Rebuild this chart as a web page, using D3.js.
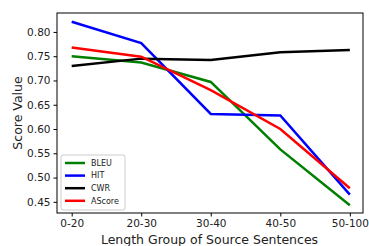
<!DOCTYPE html>
<html>
<head>
<meta charset="utf-8">
<script src="https://cdn.jsdelivr.net/npm/d3@7"></script>
<style>
  body { margin: 0; background: #fff; }
  text { font-family: "DejaVu Sans", sans-serif; }
</style>
</head>
<body>
<div id="chart"></div>
<script>
const groups = ["0-20", "20-30", "30-40", "40-50", "50-100"];
const bleu = [0.750, 0.737, 0.697, 0.558, 0.443];
const hit = [0.821, 0.777, 0.631, 0.628, 0.465];
const cwr = [0.730, 0.745, 0.742, 0.758, 0.763];
const ascore = [0.768, 0.749, 0.680, 0.600, 0.478];
const yTicks = [0.45, 0.50, 0.55, 0.60, 0.65, 0.70, 0.75, 0.80];

const series = [
  { name: "BLEU", values: bleu, color: "#008000" },
  { name: "HIT", values: hit, color: "#0000ff" },
  { name: "CWR", values: cwr, color: "#000000" },
  { name: "AScore", values: ascore, color: "#ff0000" }
];

const width = 369, height = 246;
const margin = { top: 13, right: 6, bottom: 33, left: 57 };
const w = width - margin.left - margin.right;
const h = height - margin.top - margin.bottom;

const svg = d3.select("#chart").append("svg")
  .attr("width", width)
  .attr("height", height);

const g = svg.append("g")
  .attr("transform", `translate(${margin.left},${margin.top})`);

// point scale with matplotlib-like 5% margins
const x = d3.scalePoint()
  .domain(groups)
  .range([w * 0.048, w * 0.957]);

const y = d3.scaleLinear()
  .domain([0.427, 0.839])
  .range([h, 0]);

const line = d3.line()
  .x((d, i) => x(groups[i]))
  .y(d => y(d));

g.selectAll("path.series")
  .data(series)
  .enter()
  .append("path")
  .attr("class", "series")
  .attr("fill", "none")
  .attr("stroke", d => d.color)
  .attr("stroke-width", 2.5)
  .attr("d", d => line(d.values));

// frame
g.append("rect")
  .attr("width", w)
  .attr("height", h)
  .attr("fill", "none")
  .attr("stroke", "#000")
  .attr("stroke-width", 1);

const xAxis = g.append("g")
  .attr("transform", `translate(0,${h})`)
  .call(d3.axisBottom(x).tickSize(3.5).tickPadding(3));
const yAxis = g.append("g")
  .call(d3.axisLeft(y).tickValues(yTicks).tickFormat(d3.format(".2f")).tickSize(3.5).tickPadding(3));

[xAxis, yAxis].forEach(a => {
  a.select(".domain").remove();
  a.selectAll("text").attr("font-size", 10.5).attr("fill", "#222").attr("font-family", "DejaVu Sans, sans-serif");
  a.selectAll("line").attr("stroke", "#000");
});

g.append("text")
  .attr("x", w / 2 - 0.5)
  .attr("y", h + 31)
  .attr("text-anchor", "middle")
  .attr("font-size", 12.5)
  .attr("fill", "#222")
  .text("Length Group of Source Sentences");

g.append("text")
  .attr("transform", `translate(${-35},${h / 2}) rotate(-90)`)
  .attr("text-anchor", "middle")
  .attr("font-size", 12.5)
  .attr("fill", "#222")
  .text("Score Value");

// legend
const legend = g.append("g").attr("transform", "translate(4,142)");
legend.append("rect")
  .attr("width", 64)
  .attr("height", 55)
  .attr("rx", 2)
  .attr("fill", "#fff")
  .attr("fill-opacity", 0.8)
  .attr("stroke", "#ccc");

const item = legend.selectAll("g.item")
  .data(series)
  .enter()
  .append("g")
  .attr("class", "item")
  .attr("transform", (d, i) => `translate(4,${8 + i * 12.6})`);
item.append("line")
  .attr("x1", 0).attr("x2", 20)
  .attr("stroke", d => d.color)
  .attr("stroke-width", 2.5);
item.append("text")
  .attr("x", 26)
  .attr("dy", "0.35em")
  .attr("font-size", 8)
  .attr("fill", "#222")
  .text(d => d.name);
</script>
</body>
</html>
